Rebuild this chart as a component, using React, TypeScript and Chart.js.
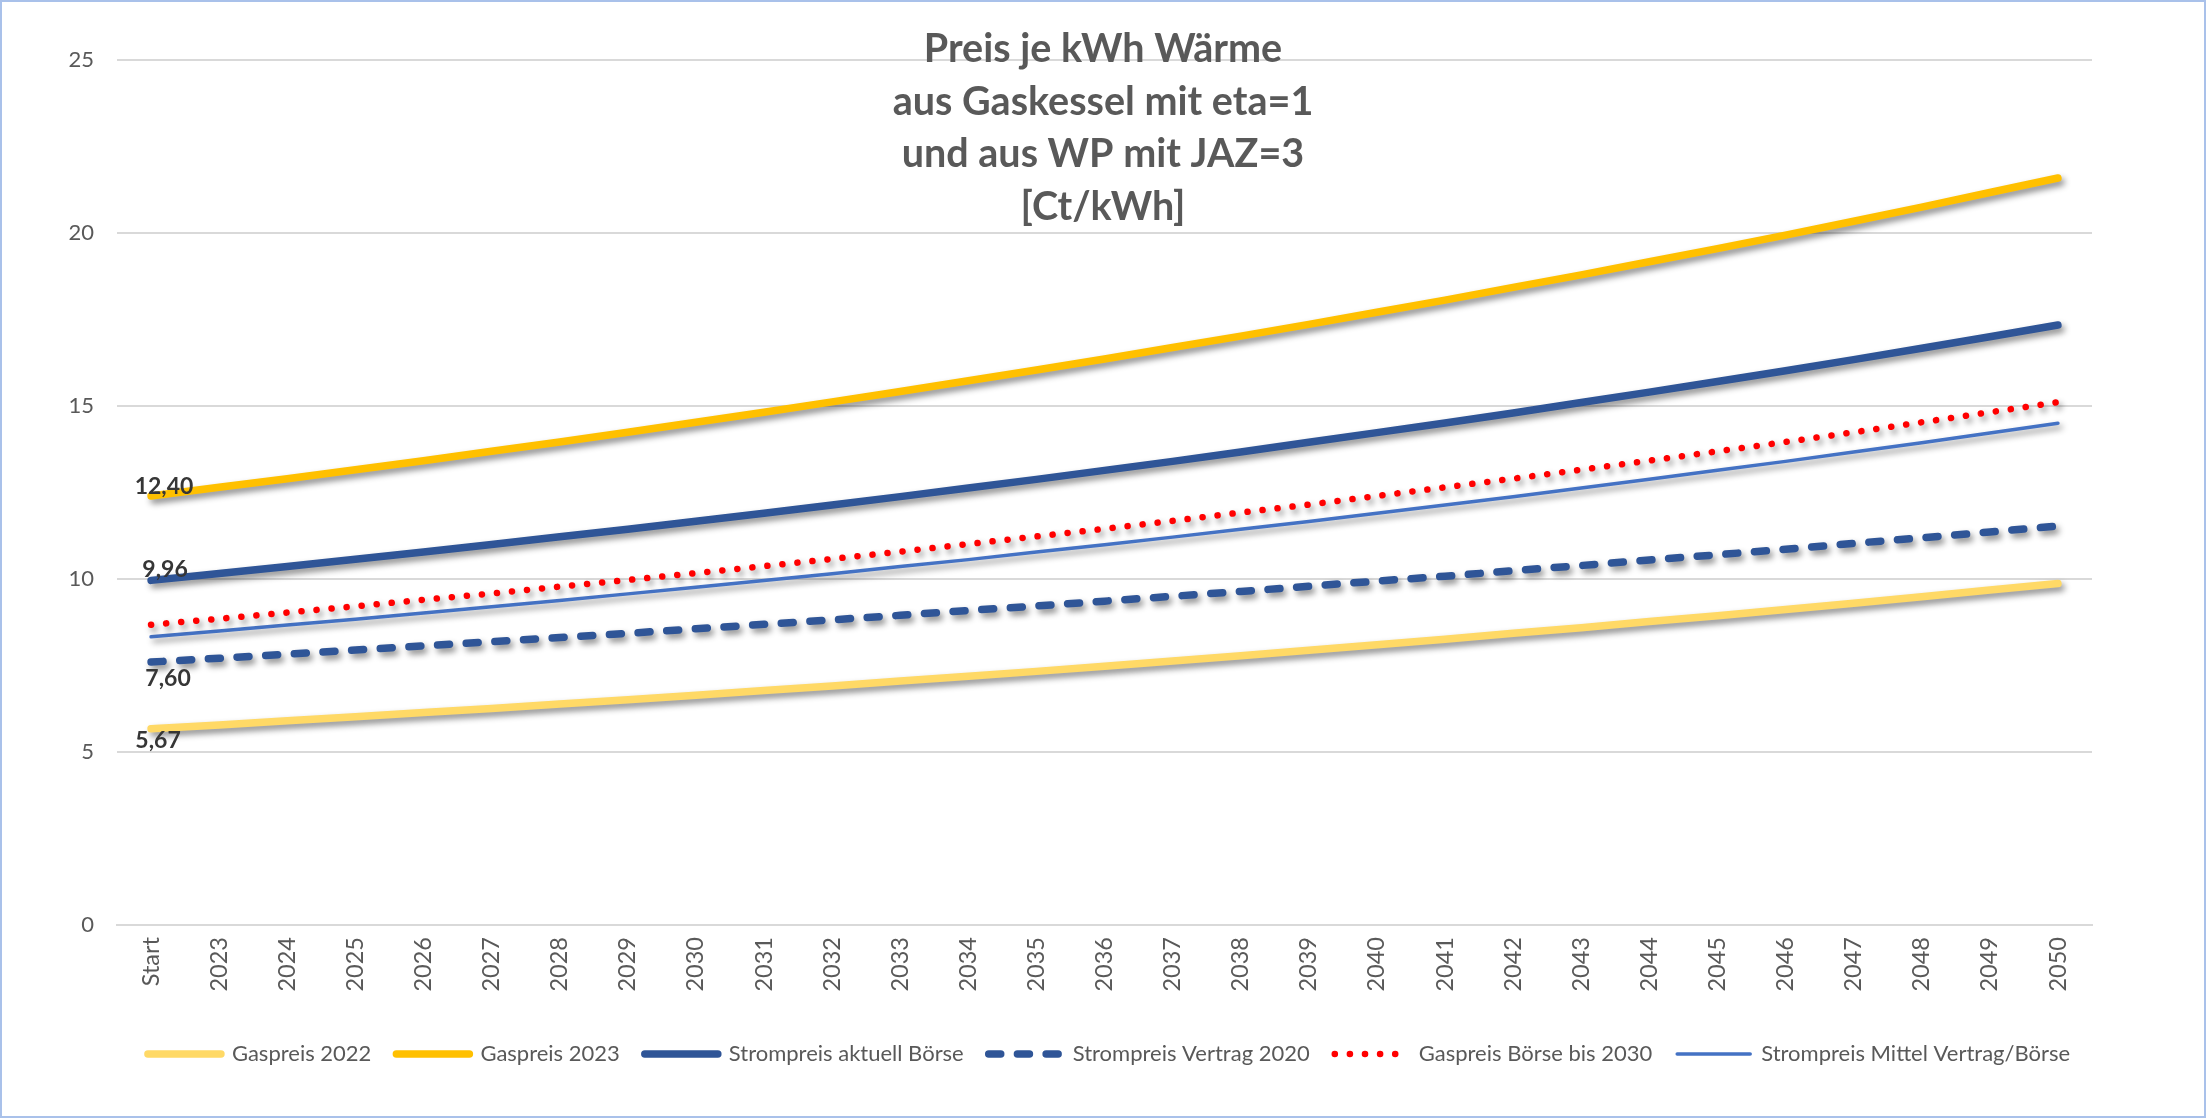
import { useEffect, useRef } from "react";
import { Chart, registerables } from "chart.js";

Chart.register(...registerables);

const categories = [
  "Start", "2023", "2024", "2025", "2026", "2027", "2028", "2029", "2030", "2031",
  "2032", "2033", "2034", "2035", "2036", "2037", "2038", "2039", "2040", "2041",
  "2042", "2043", "2044", "2045", "2046", "2047", "2048", "2049", "2050",
];

const gaspreis2022 = [
  5.67, 5.78, 5.90, 6.02, 6.14, 6.26, 6.39, 6.51, 6.64, 6.78,
  6.91, 7.05, 7.19, 7.33, 7.48, 7.63, 7.78, 7.94, 8.10, 8.26,
  8.43, 8.59, 8.77, 8.94, 9.12, 9.30, 9.49, 9.68, 9.87,
];

const gaspreis2023 = [
  12.40, 12.65, 12.90, 13.16, 13.42, 13.69, 13.96, 14.24, 14.53, 14.82,
  15.12, 15.42, 15.73, 16.04, 16.36, 16.69, 17.02, 17.36, 17.71, 18.06,
  18.43, 18.79, 19.17, 19.55, 19.94, 20.34, 20.75, 21.17, 21.59,
];

const strompreisAktuellBoerse = [
  9.96, 10.16, 10.36, 10.57, 10.78, 11.00, 11.22, 11.44, 11.67, 11.90,
  12.14, 12.38, 12.63, 12.88, 13.14, 13.40, 13.67, 13.95, 14.23, 14.51,
  14.80, 15.10, 15.40, 15.71, 16.02, 16.34, 16.67, 17.00, 17.34,
];

const strompreisVertrag2020 = [
  7.60, 7.71, 7.83, 7.95, 8.07, 8.19, 8.31, 8.43, 8.56, 8.69,
  8.82, 8.95, 9.09, 9.22, 9.36, 9.50, 9.64, 9.79, 9.94, 10.08,
  10.24, 10.39, 10.55, 10.70, 10.86, 11.03, 11.19, 11.36, 11.53,
];

const gaspreisBoerseBis2030 = [
  8.68, 8.85, 9.03, 9.21, 9.40, 9.58, 9.78, 9.97, 10.17, 10.37,
  10.58, 10.79, 11.01, 11.23, 11.45, 11.68, 11.92, 12.15, 12.40, 12.65,
  12.90, 13.16, 13.42, 13.69, 13.96, 14.24, 14.53, 14.82, 15.11,
];

const strompreisMittel = [
  8.33, 8.50, 8.67, 8.84, 9.02, 9.20, 9.38, 9.57, 9.76, 9.96,
  10.15, 10.36, 10.56, 10.78, 10.99, 11.21, 11.44, 11.66, 11.90, 12.14,
  12.38, 12.63, 12.88, 13.14, 13.40, 13.67, 13.94, 14.22, 14.50,
];

const seriesNames = [
  "Gaspreis 2022",
  "Gaspreis 2023",
  "Strompreis aktuell Börse",
  "Strompreis Vertrag 2020",
  "Gaspreis Börse bis 2030",
  "Strompreis Mittel Vertrag/Börse",
];

const titleLines = [
  "Preis je kWh Wärme",
  "aus Gaskessel mit eta=1",
  "und aus WP mit JAZ=3",
  "[Ct/kWh]",
];

const yMin = 0;
const yMax = 25;
const yStep = 5;

const FONT = "Lato, 'Open Sans', sans-serif";
const TEXT = "#595959";

export default function App() {
  const ref = useRef<HTMLCanvasElement | null>(null);

  useEffect(() => {
    document.body.style.margin = "0";
    document.body.style.background = "#ffffff";
    const canvas = ref.current;
    if (!canvas) return;

    const shadowPlugin = {
      id: "lineShadow",
      beforeDatasetDraw(chart: any) {
        const c = chart.ctx;
        c.save();
        c.shadowColor = "rgba(0,0,0,0.45)";
        c.shadowBlur = 6;
        c.shadowOffsetX = 3;
        c.shadowOffsetY = 4;
      },
      afterDatasetDraw(chart: any) {
        chart.ctx.restore();
      },
    };

    const titlePlugin = {
      id: "innerTitle",
      afterDraw(chart: any) {
        const c = chart.ctx;
        c.save();
        c.font = `bold 39.5px ${FONT}`;
        c.fillStyle = TEXT;
        c.textAlign = "center";
        c.textBaseline = "alphabetic";
        const cx = chart.width / 2;
        titleLines.forEach((t, i) => {
          c.fillText(t, cx, 60 + i * 52.5);
        });
        c.restore();
      },
    };

    const startLabelPlugin = {
      id: "startLabels",
      afterDatasetsDraw(chart: any) {
        const c = chart.ctx;
        chart.data.datasets.forEach((ds: any, i: number) => {
          const off = ds.startLabel;
          if (!off) return;
          const pt = chart.getDatasetMeta(i).data[0];
          const v = ds.data[0] as number;
          c.save();
          c.font = `bold 23px ${FONT}`;
          c.fillStyle = "#363636";
          c.textAlign = "center";
          c.textBaseline = "middle";
          c.fillText(v.toFixed(2).replace(".", ","), pt.x + off.dx, pt.y + off.dy);
          c.restore();
        });
      },
    };

    const common = {
      pointRadius: 0,
      pointHoverRadius: 0,
      tension: 0,
      fill: false,
      borderCapStyle: "round",
      borderJoinStyle: "round",
      yAxisID: "y",
    };

    const chart = new Chart(canvas, {
      type: "line",
      data: {
        labels: categories,
        datasets: [
          {
            ...common,
            label: seriesNames[0],
            data: gaspreis2022,
            borderColor: "#FFD966",
            backgroundColor: "#FFD966",
            borderWidth: 7.5,
            startLabel: { dx: 7, dy: 12 },
          },
          {
            ...common,
            label: seriesNames[1],
            data: gaspreis2023,
            borderColor: "#FFC000",
            backgroundColor: "#FFC000",
            borderWidth: 7.5,
            startLabel: { dx: 13, dy: -9 },
          },
          {
            ...common,
            label: seriesNames[2],
            data: strompreisAktuellBoerse,
            borderColor: "#2F5597",
            backgroundColor: "#2F5597",
            borderWidth: 7.5,
            startLabel: { dx: 14, dy: -11 },
          },
          {
            ...common,
            label: seriesNames[3],
            data: strompreisVertrag2020,
            borderColor: "#2F5597",
            backgroundColor: "#2F5597",
            borderWidth: 7.5,
            borderDash: [12, 16.7],
            startLabel: { dx: 17, dy: 17 },
          },
          {
            ...common,
            label: seriesNames[4],
            data: gaspreisBoerseBis2030,
            borderColor: "#FF0000",
            backgroundColor: "#FF0000",
            borderWidth: 6.5,
            borderDash: [0.1, 15],
          },
          {
            ...common,
            label: seriesNames[5],
            data: strompreisMittel,
            borderColor: "#4472C4",
            backgroundColor: "#4472C4",
            borderWidth: 3.5,
          },
        ] as any,
      },
      options: {
        animation: false,
        responsive: true,
        maintainAspectRatio: false,
        layout: { padding: { left: 20, right: 8, top: 58, bottom: 41 } },
        plugins: {
          title: { display: false },
          tooltip: { enabled: false },
          legend: {
            display: true,
            position: "bottom",
            fullSize: true,
            labels: {
              usePointStyle: true,
              pointStyle: "line",
              pointStyleWidth: 73,
              boxHeight: 20,
              padding: 25,
              color: TEXT,
              font: { family: FONT, size: 22 },
              generateLabels(ch: any) {
                return ch.data.datasets.map((ds: any, i: number) => ({
                  text: ds.label,
                  datasetIndex: i,
                  hidden: false,
                  fillStyle: ds.borderColor,
                  strokeStyle: ds.borderColor,
                  lineWidth: ds.borderWidth,
                  lineDash: ds.borderDash || [],
                  lineCap: "round",
                  lineJoin: "round",
                  pointStyle: "line",
                  fontColor: TEXT,
                }));
              },
            },
          },
        },
        scales: {
          x: {
            offset: true,
            grid: { display: false, drawTicks: false },
            border: { display: true, color: "#D9D9D9", width: 2 },
            ticks: {
              autoSkip: false,
              maxRotation: 90,
              minRotation: 90,
              padding: 12,
              color: TEXT,
              font: { family: FONT, size: 23.5 },
            },
            afterFit(scale: any) {
              scale.height = 93;
            },
          },
          y: {
            position: "left",
            min: yMin,
            max: yMax,
            ticks: {
              stepSize: yStep,
              padding: 23,
              color: TEXT,
              font: { family: FONT, size: 22 },
            },
            grid: { color: "#D9D9D9", lineWidth: 2, drawTicks: false },
            border: { display: false },
            afterFit(scale: any) {
              scale.width = 95;
            },
          },
          yRightSpace: {
            position: "right",
            display: true,
            min: yMin,
            max: yMax,
            grid: { display: false, drawTicks: false },
            border: { display: false },
            ticks: { display: false },
            afterFit(scale: any) {
              scale.width = 104;
            },
          },
        },
      } as any,
      plugins: [shadowPlugin, startLabelPlugin, titlePlugin],
    });

    return () => chart.destroy();
  }, []);

  return (
    <div
      style={{
        width: 2206,
        height: 1118,
        boxSizing: "border-box",
        border: "2px solid #A9C1EA",
        background: "#ffffff",
      }}
    >
      <div style={{ position: "relative", width: "100%", height: "100%" }}>
        <canvas ref={ref} />
      </div>
    </div>
  );
}
